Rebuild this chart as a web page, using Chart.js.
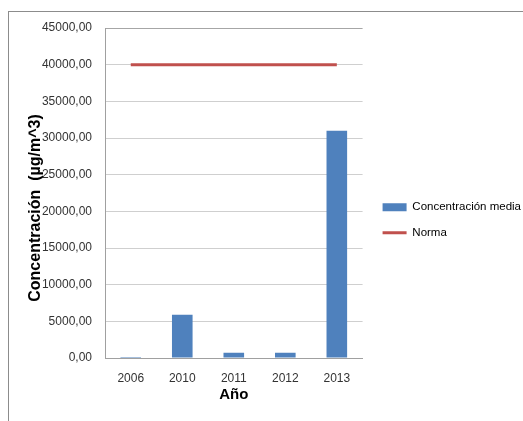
<!DOCTYPE html>
<html lang="es">
<head>
    <meta charset="UTF-8">
    <title>Concentración media vs Norma</title>
    <script src="https://cdn.jsdelivr.net/npm/chart.js"></script>
    <style>
        body {
            margin: 0;
            background: #ffffff;
            overflow: hidden;
        }

        .frame {
            position: absolute;
            left: 8px;
            top: 11px;
            width: 515px;
            height: 420px;
            border-top: 1px solid #8c8c8c;
            border-left: 1px solid #8c8c8c;
        }
    </style>
</head>
<body>
    <div class="frame">
        <canvas id="concChart"></canvas>
    </div>

    <script>
        // Years and measured values
        const years = ["2006", "2010", "2011", "2012", "2013"];
        const mediaValues = [150, 5900, 700, 700, 31000];
        const normaValues = [40000, 40000, 40000, 40000, 40000];

        const BLUE = "#4f81bd";
        const RED = "#c0504d";

        Chart.defaults.font.family = "'Liberation Sans', Arial, sans-serif";
        Chart.defaults.font.size = 12;
        Chart.defaults.color = "#333333";

        // Nudge the legend away from the plot, and the y title a bit lower
        const layoutTweaks = {
            id: 'layoutTweaks',
            beforeInit(chart) {
                const fit = chart.legend.fit;
                chart.legend.fit = function () {
                    fit.call(this);
                    this.width -= 1;
                };
            },
            afterLayout(chart) {
                const lg = chart.legend;
                lg.left += 6;
                lg.right += 6;
                lg.top += 4;
                lg.bottom += 4;

                const y = chart.scales.y;
                if (!y._titleShifted) {
                    const drawTitle = y.drawTitle;
                    y.drawTitle = function () {
                        this.ctx.save();
                        this.ctx.translate(0, 15);
                        drawTitle.call(this);
                        this.ctx.restore();
                    };
                    y._titleShifted = true;
                }
            }
        };

        const ctx = document.getElementById('concChart').getContext('2d');
        const concChart = new Chart(ctx, {
            data: {
                labels: years,
                datasets: [
                    {
                        type: 'line',
                        label: "Norma",
                        data: normaValues,
                        borderColor: RED,
                        borderWidth: 3,
                        pointRadius: 0,
                        fill: false,
                        order: 0
                    },
                    {
                        type: 'bar',
                        label: "Concentración media",
                        data: mediaValues,
                        backgroundColor: BLUE,
                        categoryPercentage: 1,
                        barPercentage: 0.4,
                        order: 1
                    }
                ]
            },
            options: {
                responsive: true,
                maintainAspectRatio: false,
                animation: false,
                layout: {
                    padding: { left: 17, top: 16, right: 0, bottom: 28 }
                },
                plugins: {
                    tooltip: { enabled: false },
                    legend: {
                        position: 'right',
                        maxWidth: 300,
                        labels: {
                            usePointStyle: true,
                            pointStyleWidth: 24,
                            boxHeight: 8,
                            padding: 14,
                            color: "#222222",
                            font: { size: 11.5 },
                            generateLabels(chart) {
                                return [
                                    {
                                        text: "Concentración media",
                                        fillStyle: BLUE,
                                        strokeStyle: BLUE,
                                        lineWidth: 0,
                                        pointStyle: 'rect',
                                        datasetIndex: 1
                                    },
                                    {
                                        text: "Norma",
                                        fillStyle: RED,
                                        strokeStyle: RED,
                                        lineWidth: 3,
                                        pointStyle: 'line',
                                        datasetIndex: 0
                                    }
                                ];
                            }
                        }
                    }
                },
                scales: {
                    x: {
                        afterFit: (s) => { s.height = 46; },
                        grid: { drawOnChartArea: false, drawTicks: false },
                        border: { color: "#a0a0a0" },
                        ticks: { padding: 13, color: "#333333" },
                        title: {
                            display: true,
                            text: "Año",
                            color: "#000000",
                            font: { size: 15, weight: 'bold' },
                            padding: 0
                        }
                    },
                    y: {
                        min: 0,
                        max: 45000,
                        afterFit: (s) => {
                            s.width = 79;
                            s.paddingTop = 0;
                            s.paddingBottom = 0;
                        },
                        grid: {
                            drawTicks: false,
                            color: (c) => c.tick && c.tick.value === 45000 ? "#a6a6a6" : "#cfcfcf"
                        },
                        border: { color: "#a0a0a0" },
                        ticks: {
                            stepSize: 5000,
                            padding: 13,
                            color: "#333333",
                            callback: (v) => v.toFixed(2).replace('.', ',')
                        },
                        title: {
                            display: true,
                            text: "Concentración  (µg/m^3)",
                            color: "#000000",
                            font: { size: 16, weight: 'bold' },
                            padding: 0
                        }
                    }
                }
            },
            plugins: [layoutTweaks]
        });
    </script>
</body>
</html>
